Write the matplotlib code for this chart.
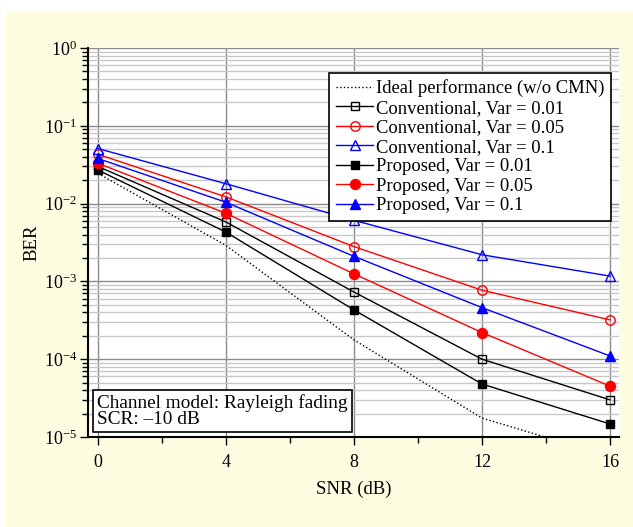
import matplotlib.pyplot as plt
from matplotlib.patches import Rectangle
from matplotlib.ticker import LogLocator, FixedLocator, NullFormatter

plt.rcParams['font.family'] = ['Liberation Serif', 'DejaVu Serif']
plt.rcParams['mathtext.fontset'] = 'stix'

snr = [0, 4, 8, 12, 16]
ideal_snr = [0, 4, 8, 12, 16]
ideal = [0.0245, 2.9e-3, 1.77e-4, 1.75e-5, 5.6e-6]
conv_001 = [0.030, 5.8e-3, 7.3e-4, 1.0e-4, 3.0e-5]
conv_005 = [0.043, 0.0122, 2.8e-3, 7.7e-4, 3.2e-4]
conv_01 = [0.051, 0.018, 6.1e-3, 2.2e-3, 1.17e-3]
prop_001 = [0.027, 4.3e-3, 4.3e-4, 4.8e-5, 1.47e-5]
prop_005 = [0.033, 7.5e-3, 1.25e-3, 2.2e-4, 4.5e-5]
prop_01 = [0.038, 0.0104, 2.1e-3, 4.6e-4, 1.1e-4]

fig = plt.figure(figsize=(6.33, 5.27), dpi=100)
fig.patch.set_facecolor('white')
# beige page background behind the plot
fig.patches.append(Rectangle((6 / 633, 0), 1, 1 - 11 / 527, transform=fig.transFigure,
                             facecolor='#fefde2', edgecolor='none', zorder=-10))

ax = fig.add_axes([88 / 633, 1 - 437 / 527, (619 - 88) / 633, (437 - 48) / 527])
ax.set_facecolor('white')

ax.plot(ideal_snr, ideal, ':', color='black', lw=1, label='Ideal performance (w/o CMN)')
ax.plot(snr, conv_001, '-s', color='black', mfc='none', ms=6, lw=1, label='Conventional, Var = 0.01')
ax.plot(snr, conv_005, '-o', color='red', mfc='none', ms=6.8, lw=1, label='Conventional, Var = 0.05')
ax.plot(snr, conv_01, '-^', color='blue', mfc='none', ms=7.5, lw=1, label='Conventional, Var = 0.1')
ax.plot(snr, prop_001, '-s', color='black', ms=6.2, lw=1, label='Proposed, Var = 0.01')
ax.plot(snr, prop_005, '-o', color='red', ms=7.2, lw=1, label='Proposed, Var = 0.05')
ax.plot(snr, prop_01, '-^', color='blue', ms=7.8, lw=1, label='Proposed, Var = 0.1')

ax.set_yscale('log')
ax.set_ylim(1e-5, 1)
ax.set_xlim(-0.31, 16.28)
ax.set_xticks([0, 4, 8, 12, 16])
ax.xaxis.set_minor_locator(FixedLocator([2, 6, 10, 14]))
ax.yaxis.set_major_locator(LogLocator(base=10, numticks=10))
ax.yaxis.set_minor_locator(LogLocator(base=10, subs=range(2, 10), numticks=20))
ax.yaxis.set_minor_formatter(NullFormatter())

ax.grid(True, which='major', color='#8c8c8c', lw=1)
ax.grid(True, which='minor', axis='y', color='#c8c8c8', lw=1)
ax.set_axisbelow(True)

for s in ['top', 'right']:
    ax.spines[s].set_visible(False)
for s in ['left', 'bottom']:
    ax.spines[s].set_linewidth(1.5)

ax.tick_params(which='major', direction='out', length=6, width=1, labelsize=13)
ax.tick_params(which='minor', direction='out', length=4, width=1)
ax.tick_params(axis='x', pad=6)
ax.tick_params(axis='y', pad=2)

ax.set_xlabel('SNR (dB)', fontsize=13.5, labelpad=7)
ax.set_ylabel('BER', fontsize=13.5, labelpad=2)

leg = ax.legend(loc='upper right', bbox_to_anchor=(0.985, 0.936), fontsize=13.4,
                frameon=True, fancybox=False, edgecolor='black', framealpha=1,
                handlelength=2.0, handletextpad=0.15, borderpad=0.35, labelspacing=0.13,
                borderaxespad=0)
leg.get_frame().set_linewidth(1.2)

ax.text(0.017, 0.022, 'Channel model: Rayleigh fading\nSCR: \u201310 dB', transform=ax.transAxes,
        fontsize=13.9, va='bottom', ha='left', linespacing=0.95,
        bbox=dict(boxstyle='square,pad=0.2', facecolor='white', edgecolor='black', lw=1.2))

fig.savefig('out.png', dpi=100)
